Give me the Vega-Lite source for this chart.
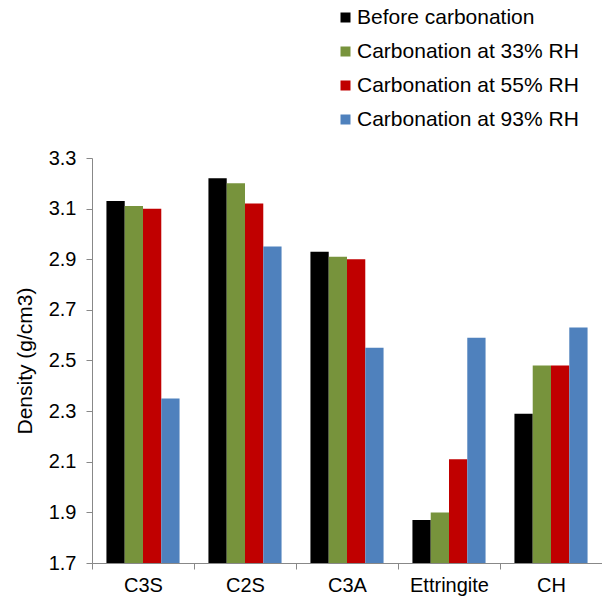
{
  "$schema": "https://vega.github.io/schema/vega-lite/v6.json",
  "autosize": "none",
  "width": 510,
  "height": 405,
  "padding": {"left": 92, "top": 158, "right": 0, "bottom": 40},
  "background": "white",
  "config": {
    "view": {"stroke": null},
    "font": "Liberation Sans"
  },
  "data": {
    "values": [
      {"phase": "C3S", "series": "Before carbonation", "density": 3.13},
      {"phase": "C3S", "series": "Carbonation at 33% RH", "density": 3.11},
      {"phase": "C3S", "series": "Carbonation at 55% RH", "density": 3.10},
      {"phase": "C3S", "series": "Carbonation at 93% RH", "density": 2.35},
      {"phase": "C2S", "series": "Before carbonation", "density": 3.22},
      {"phase": "C2S", "series": "Carbonation at 33% RH", "density": 3.20},
      {"phase": "C2S", "series": "Carbonation at 55% RH", "density": 3.12},
      {"phase": "C2S", "series": "Carbonation at 93% RH", "density": 2.95},
      {"phase": "C3A", "series": "Before carbonation", "density": 2.93},
      {"phase": "C3A", "series": "Carbonation at 33% RH", "density": 2.91},
      {"phase": "C3A", "series": "Carbonation at 55% RH", "density": 2.90},
      {"phase": "C3A", "series": "Carbonation at 93% RH", "density": 2.55},
      {"phase": "Ettringite", "series": "Before carbonation", "density": 1.87},
      {"phase": "Ettringite", "series": "Carbonation at 33% RH", "density": 1.90},
      {"phase": "Ettringite", "series": "Carbonation at 55% RH", "density": 2.11},
      {"phase": "Ettringite", "series": "Carbonation at 93% RH", "density": 2.59},
      {"phase": "CH", "series": "Before carbonation", "density": 2.29},
      {"phase": "CH", "series": "Carbonation at 33% RH", "density": 2.48},
      {"phase": "CH", "series": "Carbonation at 55% RH", "density": 2.48},
      {"phase": "CH", "series": "Carbonation at 93% RH", "density": 2.63}
    ]
  },
  "mark": {"type": "bar", "clip": true},
  "encoding": {
    "x": {
      "field": "phase",
      "type": "nominal",
      "sort": ["C3S", "C2S", "C3A", "Ettringite", "CH"],
      "scale": {"paddingInner": 0, "paddingOuter": 0},
      "axis": {
        "title": null,
        "labelAngle": 0,
        "labelFontSize": 20,
        "labelColor": "#000000",
        "labelPadding": 6,
        "tickBand": "extent",
        "tickSize": 6,
        "tickColor": "#888888",
        "domainColor": "#888888",
        "grid": false
      }
    },
    "xOffset": {
      "field": "series",
      "type": "nominal",
      "scale": {"paddingInner": 0, "paddingOuter": 0.79}
    },
    "y": {
      "field": "density",
      "type": "quantitative",
      "scale": {"domain": [1.7, 3.3], "nice": false, "zero": false},
      "axis": {
        "title": "Density (g/cm3)",
        "titleFontSize": 21,
        "titleFontWeight": "normal",
        "titleColor": "#000000",
        "titlePadding": 13,
        "values": [1.7, 1.9, 2.1, 2.3, 2.5, 2.7, 2.9, 3.1, 3.3],
        "format": ".1f",
        "labelFontSize": 20,
        "labelColor": "#000000",
        "labelPadding": 10,
        "tickSize": 6,
        "tickColor": "#888888",
        "domainColor": "#888888",
        "grid": false
      }
    },
    "color": {
      "field": "series",
      "type": "nominal",
      "scale": {
        "domain": ["Before carbonation", "Carbonation at 33% RH", "Carbonation at 55% RH", "Carbonation at 93% RH"],
        "range": ["#000000", "#77933C", "#C00000", "#4F81BD"]
      },
      "legend": {
        "title": null,
        "orient": "none",
        "legendX": 243,
        "legendY": -151,
        "symbolType": "square",
        "symbolSize": 100,
        "symbolStrokeWidth": 0,
        "labelFontSize": 21,
        "labelLimit": 0,
        "labelColor": "#000000",
        "labelOffset": 1,
        "rowPadding": 12
      }
    }
  }
}
